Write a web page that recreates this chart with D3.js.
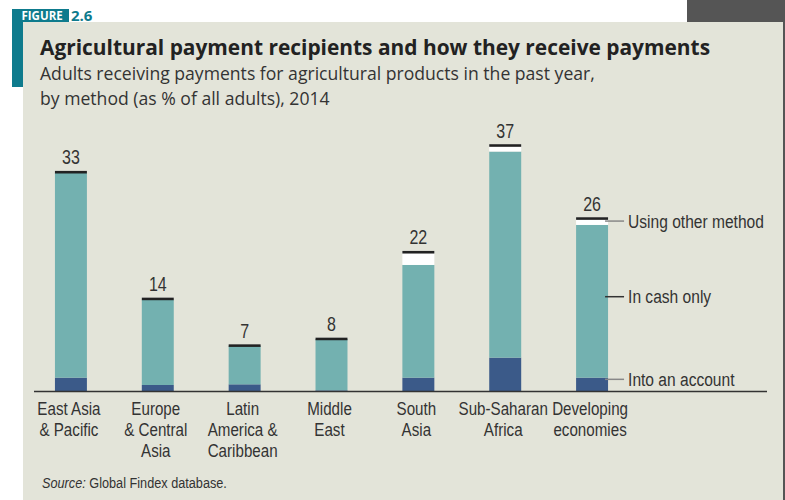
<!DOCTYPE html>
<html>
<head>
<meta charset="utf-8">
<script src="https://cdn.jsdelivr.net/npm/d3@7"></script>
<style>
  body { margin: 0; background: #fff; }
  svg { display: block; }
  .hd { font-family: "Open Sans", Lato, sans-serif; }
  .nr { font-family: "Liberation Sans", Arial, sans-serif; fill: #333; }
</style>
</head>
<body>
<svg width="785" height="500"></svg>
<script>
// regions
var categories = ["East Asia\n& Pacific", "Europe\n& Central\nAsia", "Latin\nAmerica &\nCaribbean",
  "Middle\nEast", "South\nAsia", "Sub-Saharan\nAfrica", "Developing\neconomies"];
var account = [2.0, 0.9, 1.0, 0.1, 2.0, 5.0, 2.0];
var cash    = [30.7, 12.8, 5.8, 7.7, 16.9, 30.9, 22.9];
var other   = [0.3, 0.3, 0.2, 0.2, 2.1, 1.1, 1.15];
var totals  = [33, 14, 7, 8, 22, 37, 26];
var seriesNames = ["Into an account", "In cash only", "Using other method"];
var seriesColors = ["#3b5a89", "#73b1b0", "#ffffff"];

var svg = d3.select("svg"),
    width = +svg.attr("width"),
    height = +svg.attr("height");

// no condensed face installed, so squeeze the sans horizontally
var squeeze = "scale(0.82,1)";

// page furniture
svg.append("rect").attr("x", 687).attr("y", 0).attr("width", 98).attr("height", 22).attr("fill", "#555");
svg.append("rect").attr("x", 783).attr("y", 0).attr("width", 2).attr("height", height).attr("fill", "#555");
svg.append("rect").attr("x", 23).attr("y", 22).attr("width", 760).attr("height", height - 22).attr("fill", "#e3e4d9");
svg.append("rect").attr("x", 12).attr("y", 9).attr("width", 11).attr("height", 78).attr("fill", "#0e7b8d");
svg.append("rect").attr("x", 12).attr("y", 9).attr("width", 57).attr("height", 13).attr("fill", "#0e7b8d");
svg.append("text").attr("class", "hd").attr("x", 21.5).attr("y", 20.3)
  .attr("font-size", 11.5).attr("font-weight", "bold").attr("fill", "#fff").text("FIGURE");
svg.append("text").attr("class", "hd").attr("x", 71).attr("y", 20.8)
  .attr("font-size", 15).attr("font-weight", "bold").attr("fill", "#0e7b8d").text("2.6");

svg.append("text").attr("class", "hd").attr("x", 40).attr("y", 54.5)
  .attr("font-size", 20.9).attr("font-weight", "bold").attr("fill", "#222")
  .text("Agricultural payment recipients and how they receive payments");
svg.append("text").attr("class", "hd").attr("x", 40).attr("y", 79.5)
  .attr("font-size", 17.6).attr("fill", "#333")
  .text("Adults receiving payments for agricultural products in the past year,");
svg.append("text").attr("class", "hd").attr("x", 40).attr("y", 104.5)
  .attr("font-size", 17.6).attr("fill", "#333")
  .text("by method (as % of all adults), 2014");

// scales
var x = d3.scaleBand().domain(categories).range([27.5, 635.5])
  .paddingInner(0.632).paddingOuter(0.316);
var y = d3.scaleLinear().domain([0, 40]).range([391, 124.2]);

var rows = categories.map(function(c, i) {
  return { cat: c, account: account[i], cash: cash[i], other: other[i], total: totals[i] };
});
var stack = d3.stack().keys(["account", "cash", "other"]);
var layers = stack(rows);

var g = svg.append("g");
g.selectAll("g.layer")
  .data(layers)
  .enter().append("g")
  .attr("class", "layer")
  .attr("fill", function(d, i) { return seriesColors[i]; })
  .selectAll("rect")
  .data(function(d) { return d; })
  .enter().append("rect")
  .attr("x", function(d) { return x(d.data.cat); })
  .attr("width", x.bandwidth())
  .attr("y", function(d) { return y(d[1]); })
  .attr("height", function(d) { return y(d[0]) - y(d[1]); });

// black cap on top of each bar
var topLayer = layers[2];
g.selectAll("rect.cap")
  .data(topLayer)
  .enter().append("rect")
  .attr("class", "cap")
  .attr("x", function(d) { return x(d.data.cat); })
  .attr("width", x.bandwidth())
  .attr("y", function(d) { return y(d[1]); })
  .attr("height", 2.6)
  .attr("fill", "#222");

// totals
g.selectAll("g.total")
  .data(topLayer)
  .enter().append("g")
  .attr("class", "total")
  .attr("transform", function(d) { return "translate(" + (x(d.data.cat) + x.bandwidth() / 2) + "," + (y(d[1]) - 6.5) + ")"; })
  .append("text")
  .attr("class", "nr")
  .attr("transform", squeeze)
  .attr("text-anchor", "middle")
  .attr("font-size", 19.5)
  .text(function(d) { return d.data.total; });

// baseline
svg.append("line").attr("x1", 34).attr("x2", 767).attr("y1", y(0) + 0.5).attr("y2", y(0) + 0.5)
  .attr("stroke", "#333").attr("stroke-width", 1.5);

// category labels
var labels = svg.append("g").selectAll("g")
  .data(categories)
  .enter().append("g")
  .attr("transform", function(d) { return "translate(" + (x(d) + x.bandwidth() / 2 - 2) + ",415)"; })
  .append("text")
  .attr("class", "nr")
  .attr("transform", squeeze)
  .attr("text-anchor", "middle")
  .attr("font-size", 18.5);
labels.selectAll("tspan")
  .data(function(d) { return d.split("\n"); })
  .enter().append("tspan")
  .attr("x", 0)
  .attr("y", function(d, i) { return i * 21; })
  .text(function(d) { return d; });

// legend on the last bar
var last = rows[rows.length - 1];
var lx = x(last.cat) + x.bandwidth();
var legendAt = [last.account - 0.25, last.account + last.cash * 0.53, last.account + last.cash + last.other / 2];
var legendStroke = ["#888", "#333", "#888"];
var leg = svg.append("g").selectAll("g")
  .data(seriesNames)
  .enter().append("g")
  .attr("transform", function(d, i) { return "translate(" + lx + "," + y(legendAt[i]) + ")"; });
leg.append("line").attr("x1", -3).attr("x2", 16)
  .attr("stroke", function(d, i) { return legendStroke[i]; }).attr("stroke-width", 1.5);
leg.append("g").attr("transform", "translate(20,0)")
  .append("text").attr("class", "nr").attr("transform", squeeze).attr("dy", "0.35em")
  .attr("font-size", 19).text(function(d) { return d; });

// source
var src = svg.append("g").attr("transform", "translate(42,488)")
  .append("text").attr("class", "nr").attr("transform", squeeze).attr("font-size", 15.5);
src.append("tspan").attr("font-style", "italic").text("Source:");
src.append("tspan").text(" Global Findex database.");
</script>
</body>
</html>
